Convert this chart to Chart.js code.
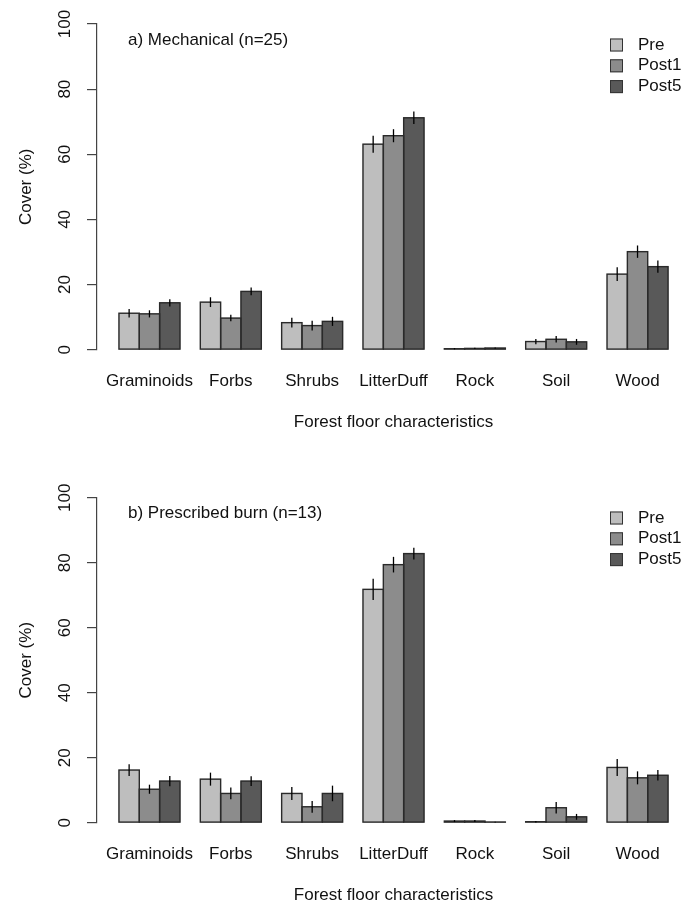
<!DOCTYPE html>
<html>
<head>
<meta charset="utf-8">
<script src="https://cdn.jsdelivr.net/npm/chart.js@4/dist/chart.umd.min.js"></script>
<style>
  html, body { margin: 0; padding: 0; background: #fff; overflow: hidden; }
  body { width: 696px; height: 902px; position: relative; }
  canvas { position: absolute; left: 0; }
</style>
</head>
<body>
<canvas id="panelA" width="696" height="473" style="top:0px"></canvas>
<canvas id="panelB" width="696" height="473" style="top:473px"></canvas>
<script>
// Forest floor cover (%) by treatment period, mean ± SE
const categories = ['Graminoids', 'Forbs', 'Shrubs', 'LitterDuff', 'Rock', 'Soil', 'Wood'];
const periods = ['Pre', 'Post1', 'Post5'];
const yTicks = [0, 20, 40, 60, 80, 100];

// a) Mechanical treatment
const mechPre     = [11.2, 14.6, 8.3, 63.1, 0.3, 2.5, 23.2];
const mechPost1   = [11.0,  9.7, 7.4, 65.7, 0.4, 3.2, 30.1];
const mechPost5   = [14.4, 17.9, 8.7, 71.2, 0.5, 2.4, 25.5];
const mechPreSE   = [1.3, 1.5, 1.5, 2.6, 0.2, 0.8, 2.1];
const mechPost1SE = [1.1, 1.0, 1.5, 2.0, 0.2, 1.0, 1.9];
const mechPost5SE = [1.1, 1.2, 1.4, 1.9, 0.2, 0.9, 1.9];

// b) Prescribed burn
const burnPre     = [16.2, 13.4, 9.0, 71.8, 0.5, 0.3, 17.0];
const burnPost1   = [10.3,  9.0, 4.9, 79.4, 0.5, 4.6, 13.8];
const burnPost5   = [12.8, 12.8, 9.0, 82.8, 0.2, 1.8, 14.6];
const burnPreSE   = [1.8, 2.0, 2.0, 3.3, 0.3, 0.2, 2.6];
const burnPost1SE = [1.4, 1.8, 1.8, 2.4, 0.3, 1.8, 2.0];
const burnPost5SE = [1.6, 1.5, 2.4, 1.8, 0.1, 0.9, 1.6];

const FILLS = ['#bebebe', '#8c8c8c', '#595959'];
const FONT = '"Liberation Sans", Arial, Helvetica, sans-serif';
const TEXT = '#111';
const AXIS = '#444';
const OUTLINE = '#2a2a2a';

// Bar layout in bar-width units: each category takes 3 bars plus a 1-bar gap.
const BAR_SPACE = 1;
const GROUP = periods.length + BAR_SPACE;
const X_MIN = BAR_SPACE;
const X_MAX = categories.length * GROUP;
const X_PAD = (X_MAX - X_MIN) * 0.04;

function barX(g, s) { return BAR_SPACE + g * GROUP + s + 0.5; }
function groupCenter(g) { return BAR_SPACE + g * GROUP + periods.length / 2; }

// Outlines are stroked centred on the bar edges, then the ± SE whiskers.
const barDetails = {
  id: 'barDetails',
  afterDatasetsDraw(chart) {
    const ctx = chart.ctx, y = chart.scales.y;
    ctx.save();
    ctx.strokeStyle = OUTLINE;
    ctx.lineWidth = 1.4;
    chart.data.datasets.forEach((ds, di) => {
      chart.getDatasetMeta(di).data.forEach(bar => {
        const { x, y: top, base, width } = bar.getProps(['x', 'y', 'base', 'width'], true);
        ctx.strokeRect(x - width / 2, top, width, base - top);
      });
    });
    ctx.strokeStyle = '#000';
    ctx.lineWidth = 1.3;
    chart.data.datasets.forEach((ds, di) => {
      chart.getDatasetMeta(di).data.forEach((bar, i) => {
        const v = ds.data[i].y, e = ds.se[i];
        ctx.beginPath();
        ctx.moveTo(bar.x, y.getPixelForValue(v - e));
        ctx.lineTo(bar.x, y.getPixelForValue(v + e));
        ctx.stroke();
      });
    });
    ctx.restore();
  }
};

const panelDecor = {
  id: 'panelDecor',
  afterDraw(chart, args, opts) {
    const ctx = chart.ctx, y = chart.scales.y;
    ctx.save();
    // y tick labels, reading upward as on the axis
    ctx.fillStyle = TEXT;
    ctx.font = '17px ' + FONT;
    ctx.textAlign = 'center';
    ctx.textBaseline = 'middle';
    yTicks.forEach(t => {
      ctx.save();
      ctx.translate(65, y.getPixelForValue(t));
      ctx.rotate(-Math.PI / 2);
      ctx.fillText(String(t), 0, 0);
      ctx.restore();
    });
    // panel caption
    ctx.textAlign = 'left';
    ctx.fillText(opts.caption, 128, 40);
    // legend
    const lx = 610, ly = 45, step = 20.8, box = 13;
    chart.data.datasets.forEach((ds, i) => {
      const cy = ly + i * step;
      ctx.fillStyle = ds.backgroundColor;
      ctx.fillRect(lx, cy - box / 2, box, box);
      ctx.strokeStyle = '#333';
      ctx.lineWidth = 1;
      ctx.strokeRect(lx + 0.5, cy - box / 2 + 0.5, box - 1, box - 1);
      ctx.fillStyle = TEXT;
      ctx.fillText(ds.label, 638, cy);
    });
    ctx.restore();
  }
};

function makePanel(id, caption, values, errors, topPad) {
  const datasets = periods.map((p, s) => ({
    label: p,
    data: categories.map((c, g) => ({ x: barX(g, s), y: values[s][g] })),
    se: errors[s],
    backgroundColor: FILLS[s],
    borderWidth: 0,
    grouped: false,
    barPercentage: 1,
    categoryPercentage: 1
  }));

  new Chart(document.getElementById(id), {
    type: 'bar',
    data: { datasets },
    options: {
      responsive: false,
      animation: false,
      devicePixelRatio: 1,
      layout: { padding: { top: topPad, right: 6, left: 0, bottom: 0 } },
      plugins: {
        legend: { display: false },
        tooltip: { enabled: false },
        panelDecor: { caption }
      },
      scales: {
        x: {
          type: 'linear',
          bounds: 'data',
          offset: false,
          min: X_MIN - X_PAD,
          max: X_MAX + X_PAD,
          afterBuildTicks(scale) {
            scale.ticks = categories.map((c, g) => ({ value: groupCenter(g) }));
          },
          afterFit(scale) { scale.height = 473 - 349.7; },
          grid: { display: false, drawTicks: false, offset: false },
          border: { display: false },
          ticks: {
            autoSkip: false,
            maxRotation: 0,
            minRotation: 0,
            padding: 21,
            color: TEXT,
            font: { family: FONT, size: 17 },
            callback: (v, i) => categories[i]
          },
          title: {
            display: true,
            text: 'Forest floor characteristics',
            color: TEXT,
            font: { family: FONT, size: 17 },
            padding: { top: 0, bottom: 40 }
          }
        },
        y: {
          min: 0,
          max: 100,
          afterBuildTicks(scale) {
            scale.ticks = yTicks.map(v => ({ value: v }));
          },
          afterFit(scale) { scale.width = 97; },
          grid: {
            drawOnChartArea: false,
            drawTicks: true,
            tickLength: 10,
            tickColor: AXIS,
            lineWidth: 1.2
          },
          border: { display: true, color: AXIS, width: 1.2 },
          ticks: { display: false },
          title: {
            display: true,
            text: 'Cover (%)',
            color: TEXT,
            font: { family: FONT, size: 17 },
            padding: { top: 16, bottom: 0 }
          }
        }
      }
    },
    plugins: [barDetails, panelDecor]
  });
}

makePanel('panelA', 'a) Mechanical (n=25)',
  [mechPre, mechPost1, mechPost5],
  [mechPreSE, mechPost1SE, mechPost5SE], 24);

makePanel('panelB', 'b) Prescribed burn (n=13)',
  [burnPre, burnPost1, burnPost5],
  [burnPreSE, burnPost1SE, burnPost5SE], 24.7);
</script>
</body>
</html>
